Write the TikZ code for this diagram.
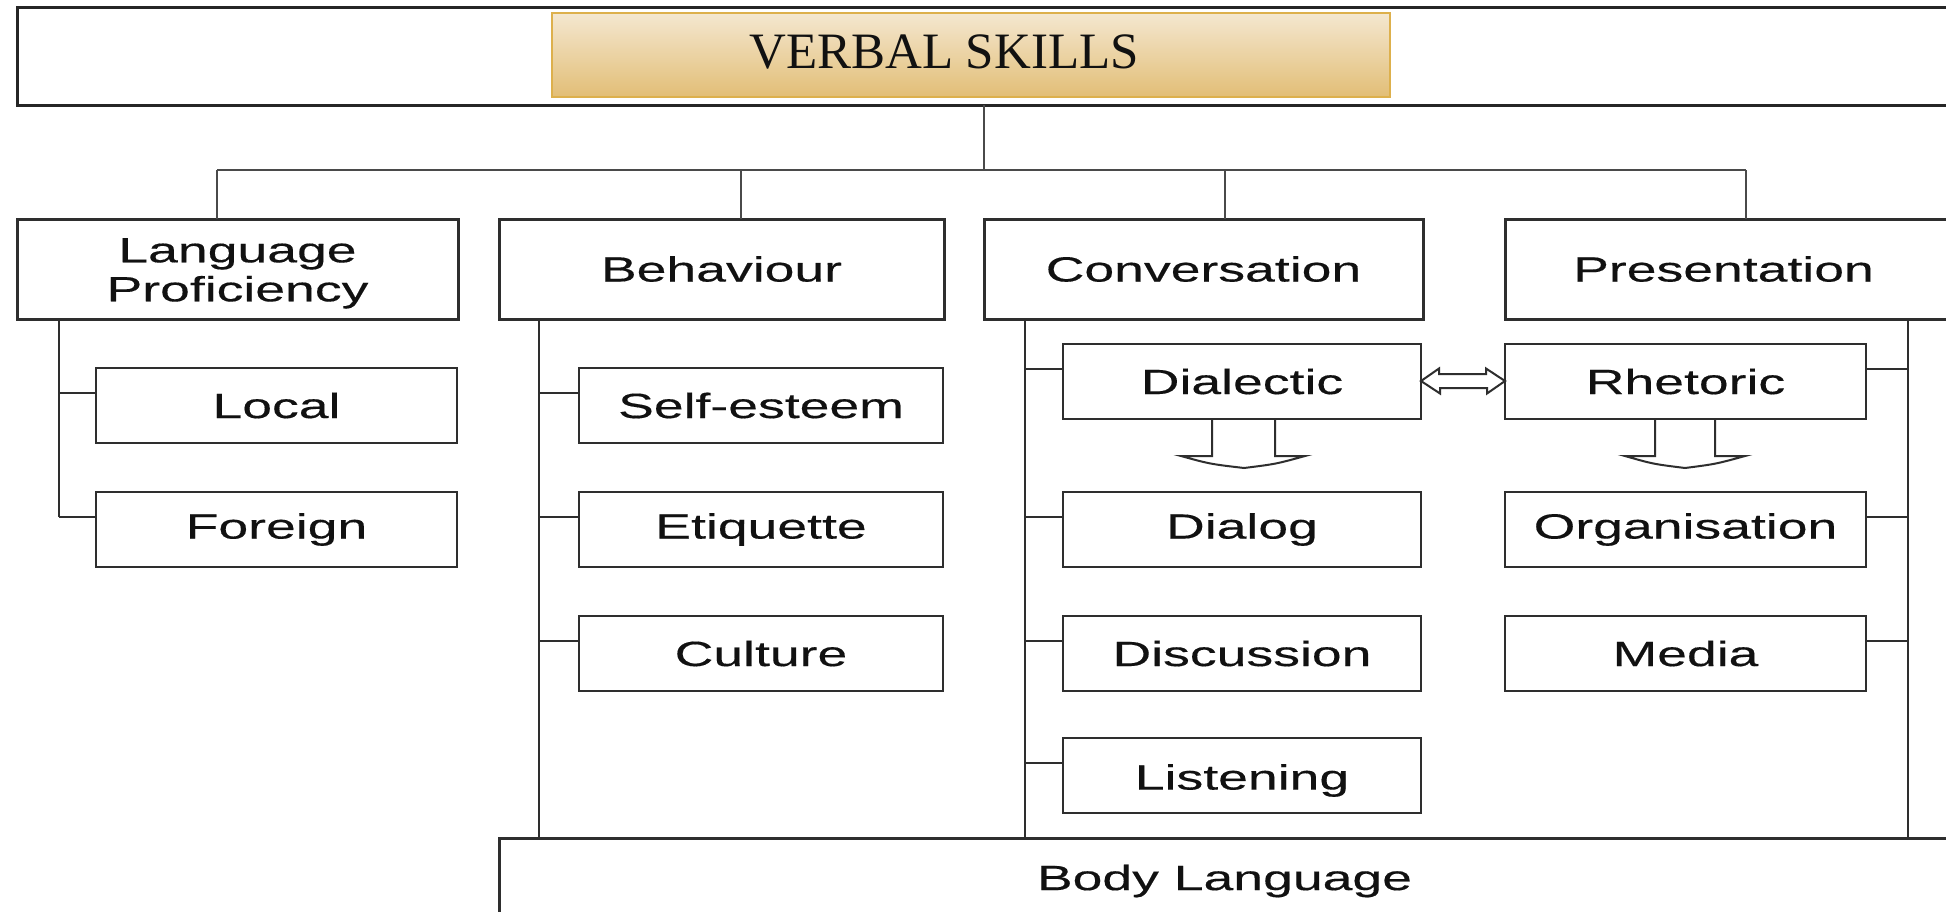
\documentclass[tikz,border=0pt]{standalone}
\usepackage{fontspec}
\newfontfamily\labfont[FakeStretch=1.53,FakeBold=0.35]{Liberation Sans}
\newfontfamily\titlefont{Liberation Serif}
\definecolor{lineC}{HTML}{2E2E2E}
\definecolor{busC}{HTML}{4A4A4A}
\definecolor{goldTop}{HTML}{F4E7D0}
\definecolor{goldBot}{HTML}{E2BE76}
\definecolor{goldLine}{HTML}{DDB04C}
\definecolor{txtC}{HTML}{111111}
\tikzset{
  basebox/.style={rectangle, draw=lineC, fill=white, inner sep=0pt, outer sep=0pt,
    text=txtC, font=\labfont\fontsize{35}{39}\selectfont, align=center},
  topbox/.style={basebox, line width=3pt, draw=black!85},
  lvlbox/.style={basebox, line width=3pt, minimum height=100pt},
  kidbox/.style={basebox, line width=2.5pt, minimum height=75pt},
  conn/.style={draw=busC, line width=2pt},
  spine/.style={draw=lineC, line width=2.5pt},
  hollow/.style={draw=lineC, line width=2pt, fill=white, line join=miter},
}
\begin{document}
\begin{tikzpicture}[x=1pt,y=-1pt]
\useasboundingbox (0,0) rectangle (1946,911);
\clip (0,0) rectangle (1946,911);
\fill[white] (0,0) rectangle (1946,911);

% top banner
\node[topbox, minimum width=1943pt, minimum height=98pt] (top) at (988.5,56) {};
\node[rectangle, draw=goldLine, line width=2pt, top color=goldTop, bottom color=goldBot,
      minimum width=838pt, minimum height=84pt, inner sep=0pt] (vs) at (971,55) {};
\node[text=txtC, font=\titlefont\fontsize{51}{56}\selectfont, inner sep=0pt] (vst) at (944,52) {VERBAL SKILLS};

% level-1 boxes
\node[lvlbox, minimum width=441pt] (lp) at (237.5,269) {\raisebox{-5pt}[\height][\depth]{\begin{tabular}{@{}c@{}}Language\\Proficiency\end{tabular}}};
\node[lvlbox, minimum width=445pt] (beh) at (721.5,269) {Behaviour};
\node[lvlbox, minimum width=439pt] (conv) at (1203.5,269) {Conversation};
\node[lvlbox, minimum width=455pt] (pres) at (1732.5,269) {\hspace*{-18pt}Presentation};

% tree bus
\coordinate (bus) at (984,170);
\coordinate (d1) at (217,170);
\coordinate (d2) at (741,170);
\coordinate (d3) at (1225,170);
\coordinate (d4) at (1746,170);
\draw[conn] (top.south -| bus) -- (bus);
\draw[conn] (d1) -- (d4);
\draw[conn] (d1) -- (d1 |- lp.north);
\draw[conn] (d2) -- (d2 |- beh.north);
\draw[conn] (d3) -- (d3 |- conv.north);
\draw[conn] (d4) -- (d4 |- pres.north);

% children: language proficiency
\node[kidbox, minimum width=361pt] (lo) at (276.5,405.5) {Local};
\node[kidbox, minimum width=361pt] (fo) at (276.5,529.5) {Foreign};
% behaviour
\node[kidbox, minimum width=364pt] (se) at (761,405.5) {Self-esteem};
\node[kidbox, minimum width=364pt] (et) at (761,529.5) {Etiquette};
\node[kidbox, minimum width=364pt] (cu) at (761,653.5) {Culture};
% conversation
\node[kidbox, minimum width=358pt] (dia) at (1242,381.5) {Dialectic};
\node[kidbox, minimum width=358pt] (dlg) at (1242,529.5) {Dialog};
\node[kidbox, minimum width=358pt] (dis) at (1242,653.5) {Discussion};
\node[kidbox, minimum width=358pt] (lis) at (1242,775.5) {\raisebox{-5pt}[\height][\depth]{Listening}};
% presentation
\node[kidbox, minimum width=361pt] (rh) at (1685.5,381.5) {Rhetoric};
\node[kidbox, minimum width=361pt] (org) at (1685.5,529.5) {Organisation};
\node[kidbox, minimum width=361pt] (med) at (1685.5,653.5) {Media};

% body language
\node[basebox, line width=3pt, minimum width=1451pt, minimum height=86pt] (body) at (1224.5,881) {Body Language};

% branch points
\foreach \k in {lo,fo,se,et,cu,dia,dlg,dis,lis} {\coordinate (\k-b) at ([yshift=12.5pt]\k.west);}
\foreach \k in {rh,org,med} {\coordinate (\k-b) at ([yshift=12.5pt]\k.east);}

% spines
\coordinate (s1) at (59,0);
\coordinate (s2) at (539,0);
\coordinate (s3) at (1025,0);
\coordinate (s4) at (1908,0);
\draw[spine] (s1 |- lp.south) -- (s1 |- fo-b);
\draw[spine] (s2 |- beh.south) -- (s2 |- body.north);
\draw[spine] (s3 |- conv.south) -- (s3 |- body.north);
\draw[spine] (s4 |- pres.south) -- (s4 |- body.north);

% branches
\foreach \k in {lo,fo} {\draw[spine] (s1 |- \k-b) -- (\k-b);}
\foreach \k in {se,et,cu} {\draw[spine] (s2 |- \k-b) -- (\k-b);}
\foreach \k in {dia,dlg,dis,lis} {\draw[spine] (s3 |- \k-b) -- (\k-b);}
\foreach \k in {rh,org,med} {\draw[spine] (s4 |- \k-b) -- (\k-b);}

% hollow double arrow Dialectic <-> Rhetoric
\coordinate (ay) at (0,381);
\draw[hollow] (dia.east |- ay) -- ++(18,-12.5) -- ++(0,5.5) -- ++(47,0) -- ++(0,-5.5)
   -- (rh.west |- ay) -- ++(-18,12.5) -- ++(0,-5.5) -- ++(-47,0) -- ++(0,5.5) -- cycle;

% hollow down arrows
\coordinate (a1) at (1212,0); \coordinate (a2) at (1275,0);
\coordinate (b1) at (1655,0); \coordinate (b2) at (1715,0);
\draw[hollow, fill=none] (dia.south -| a1) -- (1212,456) -- (1181,456)
   .. controls (1210,464) .. (1244,468) .. controls (1276,464) .. (1305,456)
   -- (1275,456) -- (dia.south -| a2);
\draw[hollow, fill=none] (rh.south -| b1) -- (1655,456) -- (1625,456)
   .. controls (1653,464) .. (1685,468) .. controls (1716,464) .. (1745,456)
   -- (1715,456) -- (rh.south -| b2);
\end{tikzpicture}
\end{document}
